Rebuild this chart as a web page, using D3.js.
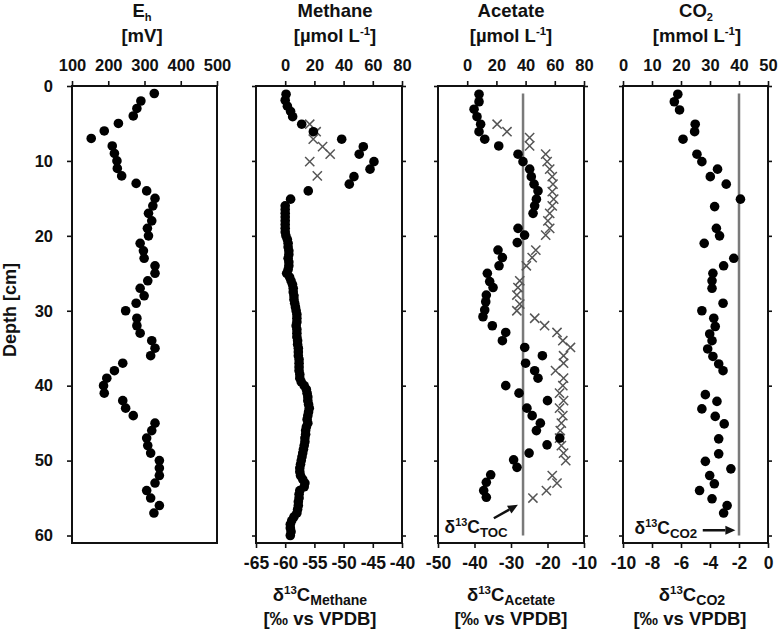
<!DOCTYPE html>
<html>
<head>
<meta charset="utf-8">
<script src="https://d3js.org/d3.v7.min.js"></script>
<style>
    body { margin: 0; background: #fff; }
    svg text { font-family: "Liberation Sans", Arial, sans-serif; font-weight: bold; fill: #111; }
</style>
</head>
<body>
<svg id="chart" width="779" height="633"></svg>
<script>
// ----------------------------
// Data
// ----------------------------

// Eh profile [mV]
const ehDepth = [1, 2, 3, 4, 5, 6, 7, 8, 9, 10, 11, 12, 13, 14, 15, 16, 17, 18, 19, 20,
    21, 22, 23, 24, 25, 26, 27, 28, 29, 30, 31, 32, 33, 34, 35, 36, 37, 38, 39, 40,
    41, 42, 43, 44, 45, 46, 47, 48, 49, 50, 51, 52, 53, 54, 55, 56, 57];
const ehValue = [327, 290, 279, 269, 228, 189, 153, 211, 217, 224, 225, 237, 277, 306, 329, 323, 311, 320, 308, 311,
    288, 297, 299, 329, 329, 309, 288, 299, 277, 248, 279, 279, 288, 320, 329, 317, 240, 217, 196, 187,
    189, 240, 248, 269, 329, 320, 306, 309, 317, 341, 341, 341, 329, 306, 317, 341, 326];

// Methane concentration [umol/L]
const methaneDepth = [1.1, 1.9, 2.7, 3.4, 4.1, 5.1, 6.1, 7.1, 8.1, 9.1, 10.1, 11.1, 12.1, 13.1, 14, 15.1,
    16, 16.5, 17, 17.5, 18, 18.5, 19, 19.5, 20, 20.5, 21, 21.5, 22, 22.5, 23, 23.5, 24, 24.5, 25, 25.5,
    26, 26.5, 27, 27.5, 28, 28.5, 29, 29.5, 30, 30.5, 31, 31.5, 32, 32.5, 33, 33.5, 34, 34.5, 35, 35.5,
    36, 36.5, 37, 37.5, 38, 38.5, 39, 39.5, 40, 40.5, 41, 41.5, 42, 42.5, 43, 43.5, 44, 44.5, 45, 45.5,
    46, 46.5, 47, 47.5, 48, 48.5, 49, 49.5, 50, 50.5, 51, 51.5, 52, 52.5, 53, 53.5, 54, 54.5, 55, 55.5,
    56, 56.5, 57, 57.5, 58, 58.5, 59, 59.5, 60];
const methaneConc = [0.6, 0, 1.5, 3.7, 5.1, 11.3, 19.3, 38.7, 53.5, 50.7, 60.8, 58.1, 47.1, 43.9, 15.8, 3.7,
    0, 0, 0, 0, 0, 0, 0, 0, 0.5, 1.5, 2, 2, 2.5, 2.5, 2, 2.5, 2.5, 2, 1, 3,
    4, 5, 5.5, 5.5, 6, 6, 6.5, 7, 7.5, 8, 8, 8, 7.5, 8, 8, 8, 8.5, 8.5, 9, 9,
    9, 9.5, 9.5, 9.5, 9.5, 10, 10, 11, 13, 14.5, 15, 15.5, 15.5, 16, 16.5, 16, 15.5, 15, 15.5, 14.5,
    14, 14, 13.5, 13.5, 13, 12.5, 12, 11.5, 11, 10.5, 10, 10, 10.5, 12, 13.5, 13, 10, 9.5, 9.5, 9,
    9, 8.5, 8, 6, 4.5, 3.5, 3.5, 4, 3.5];

// d13C of methane [permil vs VPDB]
const methaneIsoDepth = [5.1, 6.1, 7.1, 8.1, 9.1, 10.1, 12];
const methaneIso = [-55.8, -54.7, -55.2, -53.6, -52.3, -55.8, -54.5];

// Acetate concentration [umol/L]
const acetateDepth = [1.1, 2.1, 3.1, 4.1, 5.1, 6.1, 7.1, 8, 9.1, 10.1, 11.1, 12.1, 13.1, 14, 15.1, 16, 17,
    19, 19.9, 20.9, 21.9, 22.9, 24, 25, 26.1, 26.9, 27.9, 28.8, 29.9, 30.8, 32, 32.9, 34, 34.9, 36, 37,
    38, 39, 40, 41, 42, 43, 44, 45, 46, 47, 47.9, 49, 49.9, 50.9, 51.9, 52.9, 54, 54.9];
const acetateConc = [8.1, 8.1, 4.7, 6.7, 9.2, 8.1, 12, 21.6, 34.8, 38.2, 42.8, 43.9, 45.8, 48.5, 47.4, 46.2, 45.1,
    34.8, 39.3, 34.3, 21.1, 24.1, 21.8, 13.8, 15.4, 17.7, 13.1, 12.7, 12, 10.8, 17.2, 26.4, 24.1, 39.4, 51.5, 40,
    46.2, 48.5, 26.4, 35.5, 55, 40.9, 44.5, 50.1, 47.4, 63.4, 54.7, 42.4, 31.8, 34.1, 16.1, 13.1, 11.3, 13.1];

// d13C of acetate [permil vs VPDB]
const acetateIsoDepth = [5.1, 6.1, 6.9, 8, 9.1, 10.1, 11.1, 12.1, 13.1, 14.1, 15.1, 16, 17, 18, 19, 19.9,
    21.9, 22.9, 24, 26, 26.9, 27.9, 29.1, 30, 31, 32, 32.9, 34, 34.9, 36, 37, 38, 39, 40, 41, 42,
    43, 44, 45, 46, 47, 48, 49, 50, 52, 53, 54, 55];
const acetateIso = [-33.8, -31.1, -24.9, -24.9, -20.5, -20.1, -19.4, -18.7, -18.5, -18.7, -18.3, -18.7, -19.4, -19.9, -19.4, -20.5,
    -23.2, -24.2, -25.8, -27.6, -28.1, -28.4, -27.6, -28.4, -23.5, -20.8, -17.4, -15.8, -13.7, -15.6, -15.6, -17.8, -15.6, -15.8, -16.7, -15.6,
    -16.7, -15.8, -16.2, -16.5, -16.7, -16.2, -15.6, -15.0, -18.7, -17.4, -20.3, -24.0];

// CO2 concentration [mmol/L]
const co2Depth = [1.1, 2.1, 3.2, 5.1, 6.1, 7.1, 9.1, 10.1, 11.1, 12.1, 13.1, 15.1, 16.1, 19, 20, 21, 23, 24,
    25, 26, 27, 29, 30, 31, 32.1, 33.1, 34, 35.1, 36.1, 37.1, 38, 41.2, 42.1, 43.1, 44.1, 45.1,
    47.1, 49.1, 50.1, 51.1, 52, 53.1, 54, 55.1, 56, 57];
const co2Conc = [18.9, 17.7, 19.5, 24.9, 24.7, 20.7, 25.5, 27.2, 32.6, 30.1, 35.6, 40.5, 31.6, 32.2, 33.3, 28, 38.2, 34.7,
    31, 30.7, 30.7, 34.5, 27.2, 31.3, 31.8, 29.9, 30.7, 29.2, 31, 33, 34.5, 28.4, 32.4, 27.2, 31.8, 34.9,
    33, 33, 28.4, 37.2, 29.9, 31.5, 26.4, 30.7, 35.9, 34.7];

// Reference isotope values (vertical lines)
const tocIso = -26.7;
const co2Iso = -2;
const refLineDepth = [1, 60];

// Tick values
const depthTicks = [0, 10, 20, 30, 40, 50, 60];
const ehTicks = [100, 200, 300, 400, 500];
const concTicks = [0, 20, 40, 60, 80];
const co2Ticks = [0, 10, 20, 30, 40, 50];
const methaneIsoTicks = [-65, -60, -55, -50, -45, -40];
const acetateIsoTicks = [-50, -40, -30, -20, -10];
const co2IsoTicks = [-10, -8, -6, -4, -2, 0];

// ----------------------------
// Layout
// ----------------------------
var svg = d3.select("#chart"),
    plotTop = 86,
    plotBottom = 543,
    dotR = 4.8,
    crossR = 4.6,
    titleSize = 18.5,
    labelSize = 18.5;

var y = d3.scaleLinear().domain([0, 61]).range([plotTop, plotBottom]);

// plain hyphen for negatives, like the original figure
var plainFormat = d => String(d);

// ----------------------------
// Helpers
// ----------------------------

// Label made of pieces: [text, "sub" | "sup" | null]
function richText(g, x, yPos, parts, size, subRatio) {
    subRatio = subRatio || 0.76;
    const t = g.append("text")
        .attr("x", x)
        .attr("y", yPos)
        .attr("text-anchor", "middle")
        .style("font-size", size + "px");
    let pending = 0;
    parts.forEach(p => {
        const span = t.append("tspan").text(p[0]);
        let shift = 0;
        if (p[1] === "sub") {
            span.style("font-size", (size * subRatio) + "px");
            shift = size * 0.22;
        } else if (p[1] === "sup") {
            span.style("font-size", (size * 0.62) + "px");
            shift = -size * 0.4;
        }
        // go back to the baseline after a shifted piece
        span.attr("dy", shift + pending);
        pending = -shift;
    });
    return t;
}

function drawBox(g, x) {
    g.append("rect")
        .attr("x", x.range()[0])
        .attr("y", plotTop)
        .attr("width", x.range()[1] - x.range()[0])
        .attr("height", plotBottom - plotTop)
        .attr("fill", "none")
        .attr("stroke", "#111")
        .attr("stroke-width", 2);
}

function styleAxis(a, size) {
    a.select(".domain").remove();
    a.selectAll("line").attr("stroke", "#111").attr("stroke-width", 1.6);
    a.selectAll("text")
        .style("font-size", size + "px")
        .style("font-family", "'Liberation Sans', Arial, sans-serif")
        .style("font-weight", "bold")
        .attr("fill", "#111");
}

function drawTopAxis(g, x, ticks) {
    const a = g.append("g")
        .attr("transform", `translate(0,${plotTop})`)
        .call(d3.axisTop(x).tickValues(ticks).tickFormat(plainFormat).tickSize(5).tickPadding(10).tickSizeOuter(0));
    styleAxis(a, 16.5);
}

function drawBottomAxis(g, x, ticks) {
    const a = g.append("g")
        .attr("transform", `translate(0,${plotBottom})`)
        .call(d3.axisBottom(x).tickValues(ticks).tickFormat(plainFormat).tickSize(5).tickPadding(9).tickSizeOuter(0));
    styleAxis(a, 17.5);
}

function drawSideTicks(g, x) {
    const l = g.append("g")
        .attr("transform", `translate(${x.range()[0]},0)`)
        .call(d3.axisLeft(y).tickValues(depthTicks).tickSize(4).tickFormat("").tickSizeOuter(0));
    styleAxis(l, 16);
    const r = g.append("g")
        .attr("transform", `translate(${x.range()[1]},0)`)
        .call(d3.axisRight(y).tickValues(depthTicks).tickSize(4).tickFormat("").tickSizeOuter(0));
    styleAxis(r, 16);
}

function drawDots(g, x, depths, values) {
    g.append("g")
        .selectAll("circle")
        .data(depths.map((d, i) => ({depth: d, value: values[i]})))
        .join("circle")
        .attr("cx", d => x(d.value))
        .attr("cy", d => y(d.depth))
        .attr("r", dotR)
        .attr("fill", "#000");
}

function drawCrosses(g, x, depths, values) {
    g.append("g")
        .selectAll("path")
        .data(depths.map((d, i) => ({depth: d, value: values[i]})))
        .join("path")
        .attr("d", d => {
            const cx = x(d.value), cy = y(d.depth), s = crossR;
            return `M${cx - s},${cy - s}L${cx + s},${cy + s}M${cx - s},${cy + s}L${cx + s},${cy - s}`;
        })
        .attr("fill", "none")
        .attr("stroke", "#555")
        .attr("stroke-width", 1.5);
}

function drawRefLine(g, x, value) {
    g.append("line")
        .attr("x1", x(value)).attr("x2", x(value))
        .attr("y1", y(refLineDepth[0])).attr("y2", y(refLineDepth[1]))
        .attr("stroke", "#7a7a7a")
        .attr("stroke-width", 2.5);
}

function drawArrow(g, x1, y1, x2, y2) {
    const ang = Math.atan2(y2 - y1, x2 - x1), len = 10, w = 4.5;
    const bx = x2 - len * Math.cos(ang), by = y2 - len * Math.sin(ang);
    g.append("line")
        .attr("x1", x1).attr("y1", y1).attr("x2", bx).attr("y2", by)
        .attr("stroke", "#111").attr("stroke-width", 2.5);
    g.append("path")
        .attr("d", `M${x2},${y2}L${bx - w * Math.sin(ang)},${by + w * Math.cos(ang)}L${bx + w * Math.sin(ang)},${by - w * Math.cos(ang)}Z`)
        .attr("fill", "#111");
}

// ----------------------------
// Panel 1: Eh
// ----------------------------
function ehPanel() {
    const g = svg.append("g");
    const x = d3.scaleLinear().domain([100, 500]).range([72, 217]);

    drawBox(g, x);
    drawTopAxis(g, x, ehTicks);

    const l = g.append("g")
        .attr("transform", `translate(${x.range()[0]},0)`)
        .call(d3.axisLeft(y).tickValues(depthTicks).tickSize(5).tickPadding(14).tickSizeOuter(0));
    styleAxis(l, 16.5);

    drawDots(g, x, ehDepth, ehValue);

    richText(g, 142, 17, [["E", null], ["h", "sub"]], titleSize, 0.6);
    richText(g, 142, 42, [["[mV]", null]], titleSize);

    g.append("text")
        .attr("transform", "translate(16,310) rotate(-90)")
        .attr("text-anchor", "middle")
        .style("font-size", "18px")
        .text("Depth [cm]");
}

// ----------------------------
// Panel 2: Methane
// ----------------------------
function methanePanel() {
    const g = svg.append("g");
    const xc = d3.scaleLinear().domain([-20, 80]).range([256, 402]);
    const xi = d3.scaleLinear().domain([-65, -40]).range([256, 402]);

    drawBox(g, xc);
    drawTopAxis(g, xc, concTicks);
    drawBottomAxis(g, xi, methaneIsoTicks);
    drawSideTicks(g, xc);

    drawCrosses(g, xi, methaneIsoDepth, methaneIso);
    drawDots(g, xc, methaneDepth, methaneConc);

    richText(g, 335, 17, [["Methane", null]], titleSize);
    richText(g, 335, 42, [["[µmol L", null], ["-1", "sup"], ["]", null]], titleSize);
    richText(g, 320, 601, [["δ", null], ["13", "sup"], ["C", null], ["Methane", "sub"]], labelSize);
    richText(g, 320, 625, [["[‰ vs VPDB]", null]], labelSize);
}

// ----------------------------
// Panel 3: Acetate
// ----------------------------
function acetatePanel() {
    const g = svg.append("g");
    const xc = d3.scaleLinear().domain([-20, 80]).range([438, 584]);
    const xi = d3.scaleLinear().domain([-50, -10]).range([438, 584]);

    drawBox(g, xc);
    drawTopAxis(g, xc, concTicks);
    drawBottomAxis(g, xi, acetateIsoTicks);
    drawSideTicks(g, xc);

    drawRefLine(g, xi, tocIso);
    drawCrosses(g, xi, acetateIsoDepth, acetateIso);
    drawDots(g, xc, acetateDepth, acetateConc);

    // d13C TOC annotation
    drawArrow(g, xi(-34.7), y(57.7), xi(-28.1), y(55.9));
    const t = richText(g, xi(-48.2), y(59.7), [["δ", null], ["13", "sup"], ["C", null], ["TOC", "sub"]], 17.5);
    t.attr("text-anchor", "start");

    richText(g, 511, 17, [["Acetate", null]], titleSize);
    richText(g, 511, 42, [["[µmol L", null], ["-1", "sup"], ["]", null]], titleSize);
    richText(g, 511, 601, [["δ", null], ["13", "sup"], ["C", null], ["Acetate", "sub"]], labelSize);
    richText(g, 511, 625, [["[‰ vs VPDB]", null]], labelSize);
}

// ----------------------------
// Panel 4: CO2
// ----------------------------
function co2Panel() {
    const g = svg.append("g");
    const xc = d3.scaleLinear().domain([0, 50]).range([623, 768]);
    const xi = d3.scaleLinear().domain([-10, 0]).range([623, 768]);

    drawBox(g, xc);
    drawTopAxis(g, xc, co2Ticks);
    drawBottomAxis(g, xi, co2IsoTicks);
    drawSideTicks(g, xc);

    drawRefLine(g, xi, co2Iso);
    drawDots(g, xc, co2Depth, co2Conc);

    // d13C CO2 annotation
    drawArrow(g, xi(-4.5), y(59.3), xi(-2.25), y(59.3));
    const t = richText(g, xi(-9.2), y(59.8), [["δ", null], ["13", "sup"], ["C", null], ["CO2", "sub"]], 17.5);
    t.attr("text-anchor", "start");

    richText(g, 696, 17, [["CO", null], ["2", "sub"]], titleSize, 0.6);
    richText(g, 697, 42, [["[mmol L", null], ["-1", "sup"], ["]", null]], titleSize);
    richText(g, 692, 601, [["δ", null], ["13", "sup"], ["C", null], ["CO2", "sub"]], labelSize);
    richText(g, 690, 625, [["[‰ vs VPDB]", null]], labelSize);
}

ehPanel();
methanePanel();
acetatePanel();
co2Panel();
</script>
</body>
</html>
